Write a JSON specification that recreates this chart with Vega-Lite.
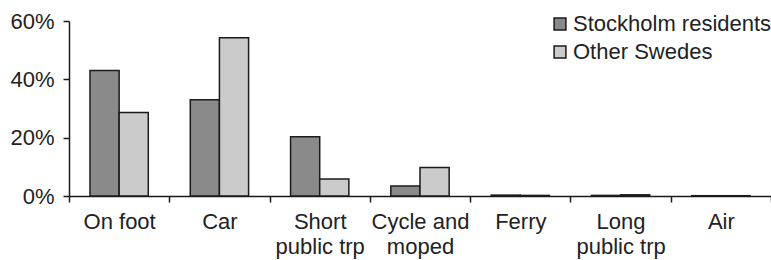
{
  "$schema": "https://vega.github.io/schema/vega-lite/v6.json",
  "width": 702,
  "height": 175,
  "autosize": {"type": "none"},
  "padding": {"left": 69, "top": 21, "right": 0, "bottom": 64},
  "background": "white",
  "data": {"values": [
    {"mode": "On foot", "group": "Stockholm residents", "share": 0.43},
    {"mode": "On foot", "group": "Other Swedes", "share": 0.286},
    {"mode": "Car", "group": "Stockholm residents", "share": 0.33},
    {"mode": "Car", "group": "Other Swedes", "share": 0.543},
    {"mode": "Short public trp", "group": "Stockholm residents", "share": 0.203},
    {"mode": "Short public trp", "group": "Other Swedes", "share": 0.058},
    {"mode": "Cycle and moped", "group": "Stockholm residents", "share": 0.034},
    {"mode": "Cycle and moped", "group": "Other Swedes", "share": 0.098},
    {"mode": "Ferry", "group": "Stockholm residents", "share": 0.003},
    {"mode": "Ferry", "group": "Other Swedes", "share": 0.002},
    {"mode": "Long public trp", "group": "Stockholm residents", "share": 0.002},
    {"mode": "Long public trp", "group": "Other Swedes", "share": 0.004},
    {"mode": "Air", "group": "Stockholm residents", "share": 0.001},
    {"mode": "Air", "group": "Other Swedes", "share": 0.001}
  ]},
  "mark": {"type": "bar", "stroke": "#1a1a1a", "strokeWidth": 1.5},
  "encoding": {
    "x": {
      "field": "mode", "type": "nominal", "sort": null, "title": null,
      "scale": {"paddingInner": 0, "paddingOuter": 0},
      "axis": {
        "tickBand": "extent", "labelAngle": 0, "labelPadding": 9,
        "labelExpr": "datum.label == 'Short public trp' ? ['Short', 'public trp'] : datum.label == 'Cycle and moped' ? ['Cycle and', 'moped'] : datum.label == 'Long public trp' ? ['Long', 'public trp'] : datum.label"
      }
    },
    "xOffset": {
      "field": "group", "type": "nominal", "sort": ["Stockholm residents", "Other Swedes"],
      "scale": {"paddingInner": 0, "paddingOuter": 0.72}
    },
    "y": {
      "field": "share", "type": "quantitative", "title": null,
      "scale": {"domain": [0, 0.6], "nice": false},
      "axis": {"values": [0, 0.2, 0.4, 0.6], "format": ".0%", "grid": false, "labelPadding": 9}
    },
    "fill": {
      "field": "group", "type": "nominal", "sort": ["Stockholm residents", "Other Swedes"],
      "scale": {"domain": ["Stockholm residents", "Other Swedes"], "range": ["#8a8a8a", "#cbcbcb"]},
      "legend": {
        "title": null, "orient": "none", "legendX": 480, "legendY": -8,
        "symbolType": "square", "symbolSize": 140, "symbolStrokeColor": "#1a1a1a",
        "symbolStrokeWidth": 1.5, "labelOffset": 2, "rowPadding": 6, "labelLimit": 0,
        "labelFontSize": 22, "labelFont": "Liberation Sans", "labelColor": "#222"
      }
    }
  },
  "config": {
    "view": {"stroke": null},
    "axis": {
      "domainColor": "#1a1a1a", "domainWidth": 1.5, "tickColor": "#1a1a1a", "tickWidth": 1.5,
      "tickSize": 6, "labelFont": "Liberation Sans", "labelFontSize": 22, "labelColor": "#222",
      "labelLineHeight": 25
    }
  }
}
